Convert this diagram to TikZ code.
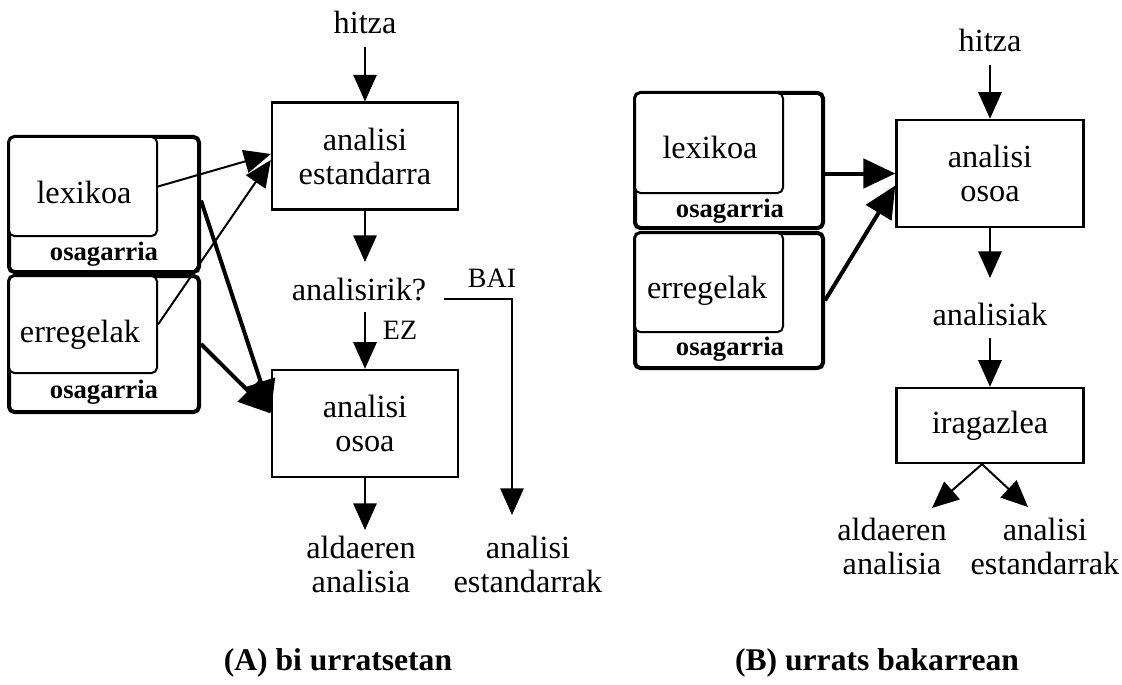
\documentclass[tikz,border=0pt]{standalone}
\usepackage{fontspec}
\setmainfont{Liberation Serif}
\usetikzlibrary{arrows.meta,calc}

\tikzset{
  mainfont/.style={font=\fontsize{24.2}{25.5}\selectfont},
  txt/.style={mainfont, inner sep=0pt, anchor=base, align=center},
  lbl/.style={font=\fontsize{21}{22}\selectfont, inner sep=0pt, anchor=base},
  tag/.style={font=\fontsize{20}{22}\selectfont\bfseries, inner sep=0pt, anchor=base},
  captext/.style={font=\fontsize{23.7}{26}\selectfont\bfseries, inner sep=0pt, anchor=base},
  procbox/.style={draw, line width=1.8pt, mainfont, align=center, inner sep=0pt,
                  minimum width=139.5pt, minimum height=80pt},
  outerbox/.style={draw, line width=3pt, rounded corners=4pt, inner sep=0pt,
                   minimum width=142.5pt, minimum height=101.25pt},
  innerbox/.style={draw, line width=1.5pt, rounded corners=4pt, fill=white, inner sep=0pt,
                   minimum width=111pt, minimum height=74.25pt},
  arr/.style={line width=1.5pt, -{Triangle[length=20pt,width=17.5pt]}},
  thickarr/.style={line width=3pt, -{Triangle[length=24pt,width=22pt]}},
}

\begin{document}
\begin{tikzpicture}[x=0.75pt, y=-0.75pt]
\useasboundingbox (0,0) rectangle (1122,685);

% ---------- (A) two-step analysis ----------
\node[outerbox] (oA1) at (104,204.5) {};
\node[innerbox] (iA1) at (83,186.5) {};
\node[txt] (lexA) at (84,203) {lexikoa};
\node[tag] (osagA1) at (104,260) {osagarria};

\node[outerbox, minimum height=102pt] (oA2) at (104,344) {};
\node[innerbox, minimum height=72.75pt] (iA2) at (83,324.5) {};
\node[txt] (erregA) at (80,342) {erregelak};
\node[tag] (osagA2) at (104,398) {osagarria};

\node[txt] (hitzaA) at (365,34) {hitza};
\node[procbox] (estA) at (365,156) {analisi\\estandarra};
\node[txt] (anA) at (359,300) {analisirik?};
\node[procbox, minimum height=80.25pt] (osoaA) at (365,423.5) {analisi\\osoa};
% two-line labels: base anchor sits on the last line
\node[txt] (aldA) at (361,592) {aldaeren\\analisia};
\node[txt] (estkA) at (528,592) {analisi\\estandarrak};
\node[lbl] (ezA) at (400,339) {EZ};
\node[lbl] (baiA) at (492,287) {BAI};

\draw[arr] ($(hitzaA.base)+(0,13)$) -- (estA.north);
\draw[arr] (estA.south) -- ($(estA.south |- anA.base)+(0,-38)$);
\draw[arr] ($(osoaA.north |- anA.base)+(0,12)$) -- (osoaA.north);
\draw[arr] ($(anA.base east)+(18,-1)$) -| ($(estkA.base)+(-16,-77)$);
\draw[arr] (osoaA.south) -- ($(osoaA.south |- aldA.base)+(0,-62)$);

\draw[arr] (iA1.east) -- ($(estA.west)+(0,-2)$);
\draw[arr] (iA2.east) -- ($(estA.west)+(0,4)$);
\draw[thickarr] ($(oA1.east)+(0,-4)$) -- ($(osoaA.west)+(0,-11)$);
\draw[thickarr] (oA2.east) -- ($(osoaA.west)+(0,-10)$);

\node[captext] (capA) at (338,670) {(A) bi urratsetan};

% ---------- (B) one-step analysis ----------
\node[outerbox, minimum width=141pt] (oB1) at (729,160.5) {};
\node[innerbox, minimum height=75pt] (iB1) at (709,143) {};
\node[txt] (lexB) at (710,159) {lexikoa};
\node[tag] (osagB1) at (730,217) {osagarria};

\node[outerbox, minimum width=141pt] (oB2) at (729,300.5) {};
\node[innerbox] (iB2) at (709,282.5) {};
\node[txt] (erregB) at (707,298) {erregelak};
\node[tag] (osagB2) at (730,355) {osagarria};

\node[txt] (hitzaB) at (990,52) {hitza};
\node[procbox, minimum width=140.25pt, minimum height=80.25pt] (osoaB) at (990,173.5) {analisi\\osoa};
\node[txt] (anB) at (990,325) {analisiak};
\node[procbox, minimum width=140.25pt, minimum height=56.25pt] (iragB) at (990,425.5) {iragazlea};
\node[txt] (aldB) at (892,574) {aldaeren\\analisia};
\node[txt] (estkB) at (1045,574) {analisi\\estandarrak};

\draw[arr] ($(hitzaB.base)+(0,13)$) -- (osoaB.north);
\draw[arr] (osoaB.south) -- ($(osoaB.south |- anB.base)+(0,-47)$);
\draw[arr] ($(iragB.north |- anB.base)+(0,13)$) -- (iragB.north);
\draw[arr] ($(iragB.south)+(-8,0)$) -- ($(aldB.base)+(40,-66)$);
\draw[arr] ($(iragB.south)+(-8,0)$) -- ($(estkB.base)+(-17,-67)$);

\draw[thickarr] (oB1.east |- osoaB.west) -- (osoaB.west);
\draw[thickarr] (oB2.east) -- ($(osoaB.west)+(0,12)$);

\node[captext] (capB) at (877,670) {(B) urrats bakarrean};
\end{tikzpicture}
\end{document}
